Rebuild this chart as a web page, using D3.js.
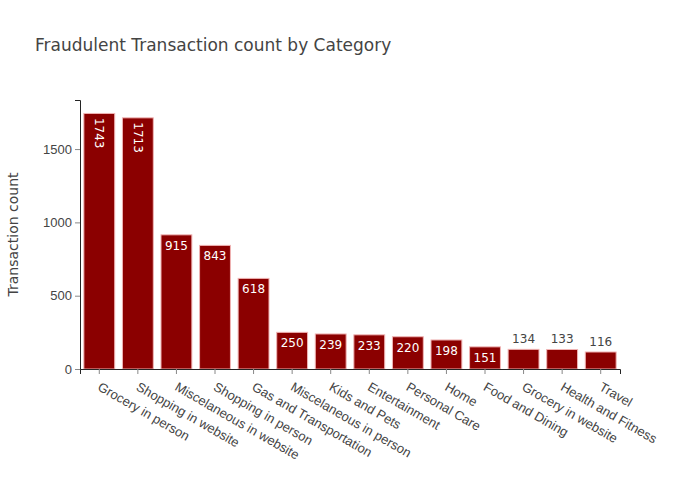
<!DOCTYPE html>
<html>
<head>
<meta charset="utf-8">
<script src="https://cdn.jsdelivr.net/npm/d3@7"></script>
<style>
  body { margin: 0; background: #fff; }
  svg { font-family: "DejaVu Sans", Verdana, sans-serif; }
</style>
</head>
<body>
<svg id="chart" width="700" height="500"></svg>
<script>
// chart data
const categories = [
  'Grocery in person', 'Shopping in website', 'Miscelaneous in website',
  'Shopping in person', 'Gas and Transportation', 'Miscelaneous in person',
  'Kids and Pets', 'Entertainment', 'Personal Care', 'Home',
  'Food and Dining', 'Grocery in website', 'Health and Fitness', 'Travel'
];
const counts = [1743, 1713, 915, 843, 618, 250, 239, 233, 220, 198, 151, 134, 133, 116];
const yTicks = [0, 500, 1000, 1500];

const svg = d3.select('#chart');
const margin = { top: 100, right: 80, bottom: 131, left: 80 };
const width = 700 - margin.left - margin.right;
const height = 500 - margin.top - margin.bottom;

const data = categories.map((c, i) => ({ cat: c, value: counts[i] }));

const x = d3.scaleBand()
  .domain(categories)
  .range([0, width])
  .paddingInner(0.2)
  .paddingOuter(0.1);

const y = d3.scaleLinear()
  .domain([0, 1743 * 1.0526])
  .range([height, 0]);

const g = svg.append('g')
  .attr('transform', `translate(${margin.left},${margin.top})`);

// title
svg.append('text')
  .attr('x', 35)
  .attr('y', 51)
  .attr('font-size', 17)
  .attr('fill', '#444')
  .text('Fraudulent Transaction count by Category');

// bars
g.selectAll('.bar')
  .data(data)
  .join('rect')
  .attr('class', 'bar')
  .attr('x', d => x(d.cat))
  .attr('y', d => y(d.value))
  .attr('width', x.bandwidth())
  .attr('height', d => height - y(d.value))
  .attr('fill', '#8b0000')
  .attr('stroke', '#f0b4b4')
  .attr('stroke-width', 1);

// value labels
const fontSize = 12;
const pad = 3;
g.selectAll('.label')
  .data(data)
  .join('text')
  .attr('class', 'label')
  .attr('font-size', fontSize)
  .text(d => d.value)
  .each(function (d) {
    const t = d3.select(this);
    const tw = this.getComputedTextLength();
    const barH = height - y(d.value);
    const cx = x(d.cat) + x.bandwidth() / 2;
    const top = y(d.value);
    if (barH < 21) {
      // doesn't fit, goes above the bar
      t.attr('x', cx).attr('y', top - 6)
        .attr('text-anchor', 'middle')
        .attr('fill', '#444');
    } else if (tw > x.bandwidth() - 2 * pad) {
      // too wide, rotate inside the bar
      t.attr('text-anchor', 'start')
        .attr('fill', '#fff')
        .attr('dy', '0.35em')
        .attr('transform', `translate(${cx},${top + 4.5}) rotate(90)`);
    } else {
      t.attr('x', cx).attr('y', top + 15)
        .attr('text-anchor', 'middle')
        .attr('fill', '#fff');
    }
  });

// x axis
const xAxis = g.append('g')
  .attr('transform', `translate(0,${height})`)
  .call(d3.axisBottom(x).tickSizeOuter(0).tickSize(5));
xAxis.select('.domain').attr('stroke', '#242424');
xAxis.selectAll('.tick line').attr('stroke', '#888');
xAxis.selectAll('.tick text')
  .attr('font-size', 13)
  .attr('fill', '#444')
  .attr('y', 0)
  .attr('dy', 0)
  .attr('text-anchor', 'start')
  .attr('transform', 'translate(-2.5,20.5) rotate(30)');

// y axis
const yAxis = g.append('g')
  .call(d3.axisLeft(y).tickValues(yTicks).tickFormat(d3.format('d'))
    .tickSizeOuter(0).tickSize(5).tickPadding(3));
yAxis.select('.domain').attr('stroke', '#242424');
yAxis.selectAll('.tick line').attr('stroke', '#888');
yAxis.selectAll('.tick text')
  .attr('font-size', 13)
  .attr('fill', '#444');

// y axis title
svg.append('text')
  .attr('transform', `translate(18,${margin.top + height / 2}) rotate(-90)`)
  .attr('text-anchor', 'middle')
  .attr('font-size', 14)
  .attr('fill', '#444')
  .text('Transaction count');
</script>
</body>
</html>
